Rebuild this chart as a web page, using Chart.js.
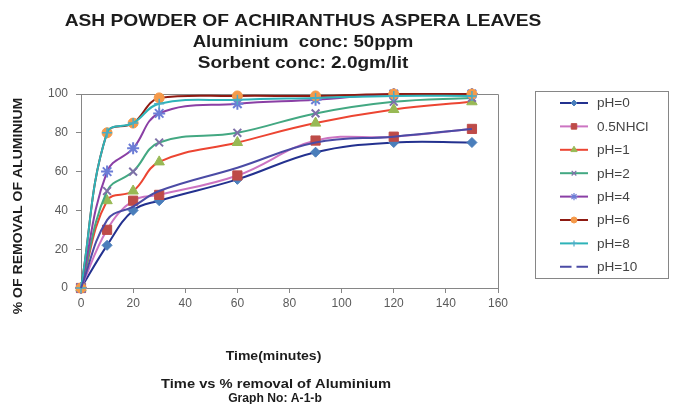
<!DOCTYPE html>
<html>
<head>
<meta charset="utf-8">
<title>Time vs % removal of Aluminium</title>
<script src="https://cdn.jsdelivr.net/npm/chart.js@4.4.1/dist/chart.umd.min.js"></script>
<style>
  html, body { margin: 0; padding: 0; background: #ffffff; }
  #wrap { width: 673px; height: 404px; position: relative; }
</style>
</head>
<body>
<div id="wrap"><canvas id="chart" width="673" height="404"></canvas></div>
<script>
// Contact time (minutes) and % removal of aluminium for each medium
const timeMinutes = [0, 10, 20, 30, 60, 90, 120, 150];
const seriesNames = ['pH=0', '0.5NHCl', 'pH=1', 'pH=2', 'pH=4', 'pH=6', 'pH=8', 'pH=10'];
const removalPH0  = [0, 22, 40, 45, 56, 70, 75, 75];
const removalHCl  = [0, 30, 45, 48, 58, 76, 78, 82];
const removalPH1  = [0, 45, 50, 65, 75, 85, 92, 96];
const removalPH2  = [0, 50, 60, 75, 80, 90, 96, 98];
const removalPH4  = [0, 60, 72, 90, 95, 97, 100, 100];
const removalPH6  = [0, 80, 85, 98, 99, 99, 100, 100];
const removalPH8  = [0, 80, 85, 95, 97, 98, 99, 99];
const removalPH10 = [0, 35, 42, 50, 62, 75, 78, 82];
const xTickValues = [0, 20, 40, 60, 80, 100, 120, 140, 160];
const yTickValues = [0, 20, 40, 60, 80, 100];

const titleLines = ['ASH POWDER OF ACHIRANTHUS ASPERA LEAVES', 'Aluminium  conc: 50ppm', 'Sorbent conc: 2.0gm/lit'];
const xAxisTitle = 'Time(minutes)';
const yAxisTitle = '% OF REMOVAL OF ALUMINIUM';
const captionLines = ['Time vs % removal of Aluminium', 'Graph No: A-1-b'];

const FONT = '"Liberation Sans", Arial, sans-serif';
const AXIS_GREY = '#868686';

function toPoints(values) {
  return values.map((v, i) => ({ x: timeMinutes[i], y: v }));
}

const datasets = [
  { label: seriesNames[0], data: toPoints(removalPH0), borderColor: '#23318F',
    pointStyle: 'rectRot', pointRadius: 5, pointBackgroundColor: '#4A7EBB', pointBorderColor: '#4A7EBB', pointBorderWidth: 1 },
  { label: seriesNames[1], data: toPoints(removalHCl), borderColor: '#CC74C2',
    pointStyle: 'rect', pointRadius: 6.5, pointBackgroundColor: '#BE4B48', pointBorderColor: '#BE4B48', pointBorderWidth: 1 },
  { label: seriesNames[2], data: toPoints(removalPH1), borderColor: '#EC4532',
    pointStyle: 'triangle', pointRadius: 6, pointBackgroundColor: '#98B954', pointBorderColor: '#98B954', pointBorderWidth: 1 },
  { label: seriesNames[3], data: toPoints(removalPH2), borderColor: '#43A882',
    pointStyle: 'crossRot', pointRadius: 5.5, pointBackgroundColor: '#7E70A8', pointBorderColor: '#7E70A8', pointBorderWidth: 2 },
  { label: seriesNames[4], data: toPoints(removalPH4), borderColor: '#8A3FA5',
    pointStyle: 'star', pointRadius: 6, pointBackgroundColor: '#6C7DD6', pointBorderColor: '#6C7DD6', pointBorderWidth: 2 },
  { label: seriesNames[5], data: toPoints(removalPH6), borderColor: '#8E1A12',
    pointStyle: 'circle', pointRadius: 5, pointBackgroundColor: '#F59A4A', pointBorderColor: '#F59A4A', pointBorderWidth: 1 },
  { label: seriesNames[6], data: toPoints(removalPH8), borderColor: '#2EB3B8',
    pointStyle: 'cross', pointRadius: 5, pointBackgroundColor: '#4BACC6', pointBorderColor: '#4BACC6', pointBorderWidth: 1.5 },
  { label: seriesNames[7], data: toPoints(removalPH10), borderColor: '#4B4BA5',
    pointStyle: 'circle', pointRadius: 0, pointBackgroundColor: '#4B4BA5', pointBorderColor: '#4B4BA5', pointBorderWidth: 0 }
].map((ds, i, all) => Object.assign({
  borderWidth: 2,
  tension: 0.4,
  fill: false,
  clip: false,
  order: all.length - 1 - i,   // later series are painted on top
  pointHoverRadius: ds.pointRadius
}, ds));

// Text squeezed/stretched horizontally around its anchor
function drawText(ctx, text, x, y, font, sx, align, color, rotate) {
  ctx.save();
  ctx.translate(x, y);
  if (rotate) ctx.rotate(rotate);
  ctx.scale(sx, 1);
  ctx.font = font;
  ctx.textAlign = align;
  ctx.textBaseline = 'alphabetic';
  ctx.fillStyle = color;
  ctx.fillText(text, 0, 0);
  ctx.restore();
}

const decorations = {
  id: 'decorations',
  beforeDraw(chart) {
    const ctx = chart.ctx;
    ctx.save();
    ctx.fillStyle = '#ffffff';
    ctx.fillRect(0, 0, chart.width, chart.height);
    ctx.restore();
  },
  beforeDatasetsDraw(chart) {
    // top and right sides of the plot frame
    const { ctx, chartArea: a } = chart;
    ctx.save();
    ctx.strokeStyle = AXIS_GREY;
    ctx.lineWidth = 1;
    ctx.beginPath();
    ctx.moveTo(Math.round(a.left) + 0.5, Math.round(a.top) + 0.5);
    ctx.lineTo(Math.round(a.right) + 0.5, Math.round(a.top) + 0.5);
    ctx.lineTo(Math.round(a.right) + 0.5, Math.round(a.bottom) + 0.5);
    ctx.stroke();
    ctx.restore();
  },
  afterDraw(chart) {
    const ctx = chart.ctx;
    const dark = '#1c1c1c';
    const cx = 303;
    // headings
    drawText(ctx, titleLines[0], cx, 26, 'bold 17px ' + FONT, 1.13, 'center', dark);
    drawText(ctx, titleLines[1], cx, 47, 'bold 16px ' + FONT, 1.16, 'center', dark);
    drawText(ctx, titleLines[2], cx, 68, 'bold 16px ' + FONT, 1.19, 'center', dark);
    // axis titles
    drawText(ctx, xAxisTitle, 273.5, 360, 'bold 13px ' + FONT, 1.08, 'center', dark);
    drawText(ctx, yAxisTitle, 22, 206, 'bold 13.5px ' + FONT, 1.04, 'center', dark, -Math.PI / 2);
    // caption
    drawText(ctx, captionLines[0], 276, 388, 'bold 13px ' + FONT, 1.13, 'center', dark);
    drawText(ctx, captionLines[1], 275, 402, 'bold 12.5px ' + FONT, 0.97, 'center', dark);

    // legend box
    const box = { left: 535, top: 91, right: 668, bottom: 278 };
    ctx.save();
    ctx.strokeStyle = AXIS_GREY;
    ctx.lineWidth = 1;
    ctx.strokeRect(box.left + 0.5, box.top + 0.5, box.right - box.left, box.bottom - box.top);
    ctx.restore();

    const helpers = Chart.helpers;
    chart.data.datasets.forEach((ds, i) => {
      const y = 103 + i * 23.4;
      const x0 = 560, x1 = 588, xm = (x0 + x1) / 2;
      ctx.save();
      ctx.strokeStyle = ds.borderColor;
      ctx.lineWidth = 2;
      ctx.beginPath();
      if (ds.pointRadius === 0) {
        ctx.moveTo(x0, y); ctx.lineTo(xm - 2.5, y);
        ctx.moveTo(xm + 2.5, y); ctx.lineTo(x1, y);
      } else {
        ctx.moveTo(x0, y); ctx.lineTo(x1, y);
      }
      ctx.stroke();
      if (ds.pointRadius > 0 && helpers && helpers.drawPoint) {
        ctx.fillStyle = ds.pointBackgroundColor;
        ctx.strokeStyle = ds.pointBorderColor;
        ctx.lineWidth = Math.min(ds.pointBorderWidth, 1.2);
        helpers.drawPoint(ctx, {
          pointStyle: ds.pointStyle,
          radius: ds.pointRadius * 0.6,
          rotation: 0,
          borderWidth: ctx.lineWidth
        }, xm, y);
      }
      ctx.restore();
      drawText(ctx, ds.label, 597, y + 4.3, '12px ' + FONT, 1.13, 'left', '#444444');
    });
  }
};

const tickFont = { family: FONT, size: 12 };

new Chart(document.getElementById('chart'), {
  type: 'line',
  data: { datasets },
  plugins: [decorations],
  options: {
    responsive: false,
    animation: false,
    devicePixelRatio: 1,
    layout: { padding: { left: 0, top: 94, right: 175, bottom: 0 } },
    plugins: {
      legend: { display: false },
      title: { display: false },
      tooltip: { enabled: false }
    },
    events: [],
    scales: {
      x: {
        type: 'linear',
        min: xTickValues[0],
        max: xTickValues[xTickValues.length - 1],
        afterBuildTicks(scale) { scale.ticks = xTickValues.map(v => ({ value: v })); },
        afterFit(scale) { scale.height = 116; },
        ticks: { color: '#5a5a5a', font: tickFont, padding: 3, maxRotation: 0, autoSkip: false },
        grid: { drawOnChartArea: false, drawTicks: true, tickLength: 5, color: AXIS_GREY },
        border: { color: AXIS_GREY, width: 1 }
      },
      y: {
        type: 'linear',
        min: yTickValues[0],
        max: yTickValues[yTickValues.length - 1],
        afterBuildTicks(scale) { scale.ticks = yTickValues.map(v => ({ value: v })); },
        afterFit(scale) { scale.width = 81; },
        ticks: { color: '#5a5a5a', font: tickFont, padding: 8, autoSkip: false },
        grid: { drawOnChartArea: false, drawTicks: true, tickLength: 5, color: AXIS_GREY },
        border: { color: AXIS_GREY, width: 1 }
      }
    }
  }
});
</script>
</body>
</html>
